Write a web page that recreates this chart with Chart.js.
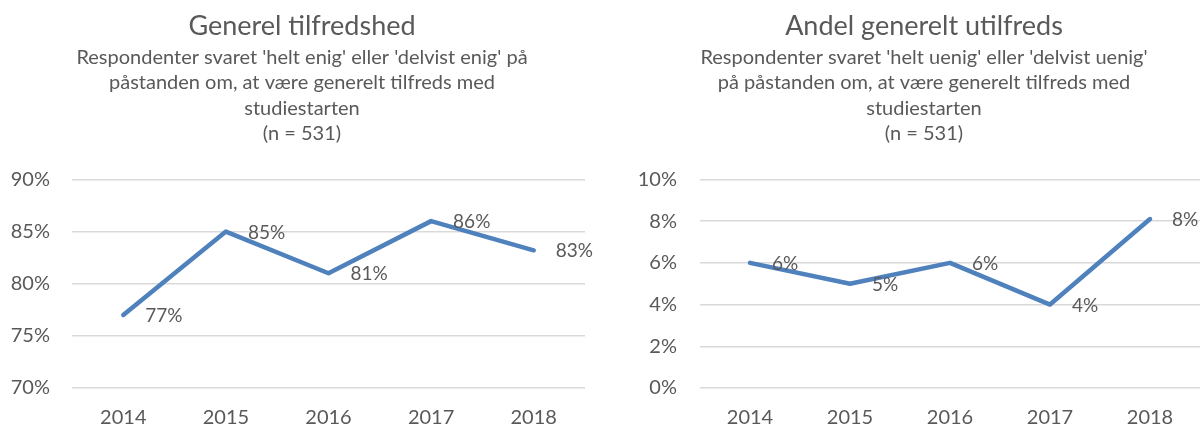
<!DOCTYPE html>
<html lang="da">
<head>
    <meta charset="UTF-8">
    <title>Generel tilfredshed</title>
    <script src="https://cdn.jsdelivr.net/npm/chart.js"></script>
    <style>
        html, body {
            margin: 0;
            padding: 0;
            background: #fff;
            overflow: hidden;
        }

        body {
            width: 1200px;
            height: 428px;
            position: relative;
        }

        canvas {
            position: absolute;
            top: 0;
        }

        #chart-left { left: 0; }
        #chart-right { left: 600px; }
    </style>
</head>
<body>

<canvas id="chart-left" width="600" height="428"></canvas>
<canvas id="chart-right" width="615" height="428"></canvas>

<script>
    const years = ['2014', '2015', '2016', '2017', '2018'];
    const satisfied = [77, 85, 81, 86, 83.2];
    const dissatisfied = [6, 5, 6, 4, 8.1];

    const leftTicks = { min: 70, max: 90, step: 5 };
    const rightTicks = { min: 0, max: 10, step: 2 };

    const leftTitle = 'Generel tilfredshed';
    const leftSubtitle = [
        "Respondenter svaret 'helt enig' eller 'delvist enig' på",
        'påstanden om, at være generelt tilfreds med',
        'studiestarten',
        '(n = 531)'
    ];
    const rightTitle = 'Andel generelt utilfreds';
    const rightSubtitle = [
        "Respondenter svaret 'helt uenig' eller 'delvist uenig'",
        'på påstanden om, at være generelt tilfreds med',
        'studiestarten',
        '(n = 531)'
    ];

    const textColor = '#595959';
    const lineColor = '#4F81BD';
    const gridColor = '#D9D9D9';

    // værdi-etiketter til højre for hvert punkt
    const pointLabels = {
        id: 'pointLabels',
        afterDatasetsDraw(chart) {
            const ctx = chart.ctx;
            const meta = chart.getDatasetMeta(0);
            const values = chart.data.datasets[0].data;
            ctx.save();
            ctx.font = '19px Lato';
            ctx.fillStyle = textColor;
            ctx.textAlign = 'left';
            ctx.textBaseline = 'middle';
            meta.data.forEach((pt, i) => {
                ctx.fillText(Math.round(values[i]) + '%', pt.x + 22, pt.y + 1);
            });
            ctx.restore();
        }
    };

    // box = venstre/højre padding, y-aksens bredde og en tom højre-akse (flytter titlen)
    function createLineChart(canvasId, values, ticks, title, subtitle, box) {
        const ctx = document.getElementById(canvasId).getContext('2d');
        return new Chart(ctx, {
            type: 'line',
            data: {
                labels: years,
                datasets: [{
                    data: values,
                    borderColor: lineColor,
                    borderWidth: 4.5,
                    borderCapStyle: 'round',
                    borderJoinStyle: 'round',
                    pointRadius: 0,
                    tension: 0,
                    fill: false
                }]
            },
            options: {
                responsive: false,
                animation: false,
                layout: {
                    padding: { left: box.left, right: box.right, top: 0, bottom: 0 }
                },
                plugins: {
                    legend: { display: false },
                    tooltip: { enabled: false },
                    title: {
                        display: true,
                        text: title,
                        color: textColor,
                        font: { family: 'Lato', size: 27, weight: 'normal', lineHeight: 1.2 },
                        padding: { top: 10, bottom: 0 }
                    },
                    subtitle: {
                        display: true,
                        text: subtitle,
                        color: textColor,
                        font: { family: 'Lato', size: 20, weight: 'normal', lineHeight: 1.275 },
                        padding: { top: 2, bottom: 33 }
                    }
                },
                scales: {
                    x: {
                        offset: true,
                        afterFit: (scale) => { scale.height = 40; },
                        grid: { display: false, drawTicks: false },
                        border: { display: false },
                        ticks: {
                            color: textColor,
                            padding: 20,
                            font: { family: 'Lato', size: 20, lineHeight: 1.0 }
                        }
                    },
                    y: {
                        min: ticks.min,
                        max: ticks.max,
                        afterFit: (scale) => { scale.width = box.axis; },
                        grid: { color: gridColor, lineWidth: 1.5, drawTicks: false },
                        border: { display: false },
                        ticks: {
                            stepSize: ticks.step,
                            color: textColor,
                            padding: box.tickPad,
                            font: { family: 'Lato', size: 20 },
                            callback: (v) => v + '%'
                        }
                    },
                    spacer: {
                        position: 'right',
                        afterFit: (scale) => { scale.width = box.spacer; },
                        grid: { display: false, drawTicks: false },
                        border: { display: false },
                        ticks: { display: false }
                    }
                }
            },
            plugins: [pointLabels]
        });
    }

    createLineChart('chart-left', satisfied, leftTicks, leftTitle, leftSubtitle,
        { left: 8, right: 4, axis: 64, tickPad: 22, spacer: 11 });
    createLineChart('chart-right', dissatisfied, rightTicks, rightTitle, rightSubtitle,
        { left: 33, right: 0, axis: 67, tickPad: 23, spacer: 15 });
</script>

</body>
</html>
